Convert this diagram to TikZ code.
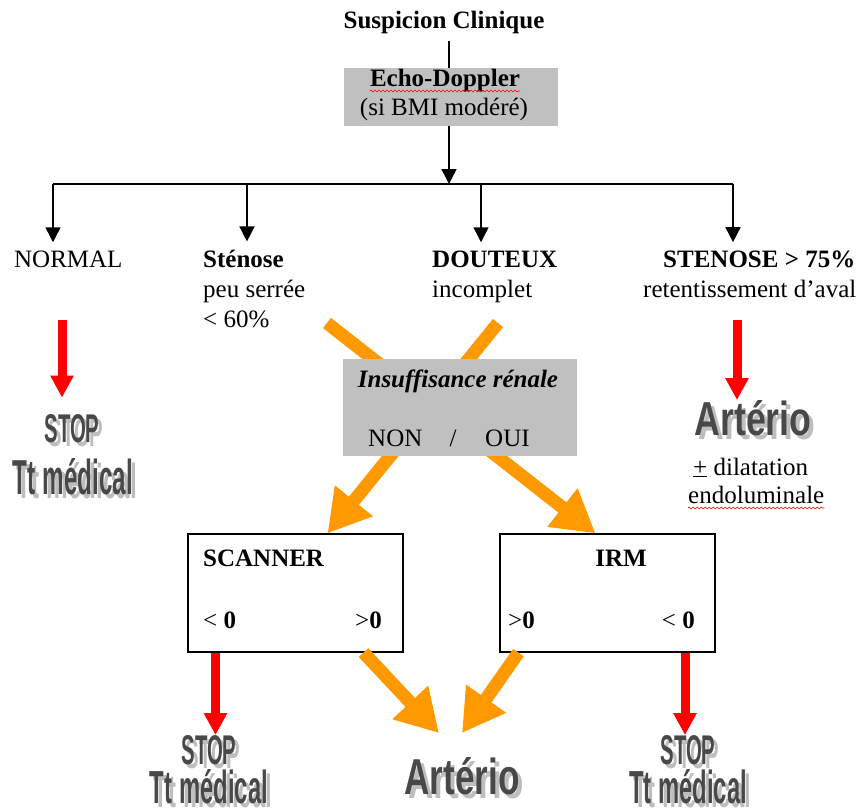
\documentclass[tikz,border=0pt]{standalone}
\usepackage{fontspec}
\setmainfont{Liberation Serif}
\newfontfamily\wordartfont{Liberation Sans}
\usepackage{graphicx}
\usetikzlibrary{arrows.meta,backgrounds,decorations.pathmorphing}

\definecolor{boxgray}{RGB}{192,192,192}
\definecolor{officeorange}{RGB}{255,153,0}
\definecolor{artgray}{RGB}{72,72,72}
\definecolor{artshade}{RGB}{190,190,190}

\tikzset{
  lbl/.style={inner sep=0pt},
  graybox/.style={fill=boxgray, draw=none},
  whitebox/.style={draw, line width=1.2pt, fill=white},
  link/.style={line width=1.5pt, -{Triangle[width=15pt,length=15pt]}},
  redarrow/.style={red, line width=9pt, -{Triangle[width=22pt,length=22pt]}},
  orangearrow/.style={officeorange, line width=13pt, -{Triangle[width=46pt,length=42pt]}},
  art/.style={inner sep=0pt, text=artgray},
  artshadow/.style={inner sep=0pt, text=artshade, xshift=4pt, yshift=-4pt},
  squiggle/.style={red, line width=0.6pt, decorate,
    decoration={snake, amplitude=1pt, segment length=4pt}},
}

\newcommand{\arttext}[3]{\resizebox{#1}{#2}{\wordartfont\bfseries #3}}
\newcommand{\wordart}[5]{%
  \node[artshadow] (#1sh) at (#2) {\arttext{#3}{#4}{#5}};
  \node[art] (#1) at (#2) {\arttext{#3}{#4}{#5}};
}

\begin{document}
\begin{tikzpicture}[x=1pt, y=-1pt, font=\fontsize{25}{30}\selectfont]
  \useasboundingbox (0,0) rectangle (865,809);

  % Echo-Doppler
  \node[lbl, anchor=base] (susp) at (444,28) {\textbf{Suspicion Clinique}};
  \node[graybox, minimum width=214pt, minimum height=58pt] (echo) at (450.5,97) {};
  \node[lbl, anchor=base] (echotitle) at (445,86) {\textbf{Echo-Doppler}};
  \node[lbl, anchor=base] (echonote) at (444,115) {(si BMI modéré)};
  \draw[squiggle] ([yshift=-5pt]echotitle.base west) -- ([yshift=-5pt]echotitle.base east);

  \coordinate (split) at (449,184);
  \draw[line width=1.5pt] ([yshift=-7pt]susp.south -| split) -- (echo.north -| split);
  \draw[link] (echo.south -| split) -- (split);

  % four results
  \node[lbl, anchor=base west] (normal) at (14,267) {NORMAL};
  \node[lbl, anchor=base west] (sten) at (203,267) {\textbf{Sténose}};
  \node[lbl, anchor=base west] (stenA) at (203,297) {peu serrée};
  \node[lbl, anchor=base west] (stenB) at (203,327) {< 60\%};
  \node[lbl, anchor=base west] (dout) at (432,267) {\textbf{DOUTEUX}};
  \node[lbl, anchor=base west] (doutA) at (432,297) {incomplet};
  \node[lbl, anchor=base west] (sev) at (663,267) {\textbf{STENOSE > 75\%}};
  \node[lbl, anchor=base west] (sevA) at (643,297) {retentissement d'aval};

  \coordinate (bnormal) at (53,184);
  \coordinate (bsten) at (247,184);
  \coordinate (bdout) at (481,184);
  \coordinate (bsev) at (733,184);
  \draw[line width=1.5pt] (bnormal) -- (bsev);
  \foreach \b/\t in {bnormal/normal, bsten/sten, bdout/dout, bsev/sev}
    \draw[link] (\b) -- ([yshift=8pt]\b |- \t.north);

  % insuffisance renale
  \node[graybox, minimum width=234pt, minimum height=97pt] (insuf) at (460,407.5) {};
  \node[lbl, anchor=base] (insuftitle) at (458,387) {\textbf{\textit{Insuffisance rénale}}};
  \node[lbl, anchor=base west] (non) at (368,446) {NON};
  \node[lbl, anchor=base] (slash) at (453,446) {/};
  \node[lbl, anchor=base west] (oui) at (485,446) {OUI};

  % imaging
  \node[whitebox, minimum width=215pt, minimum height=118pt] (scan) at (295.5,593) {};
  \node[whitebox, minimum width=215pt, minimum height=118pt] (irm) at (607.5,593) {};
  \node[lbl, anchor=base west] (scantitle) at (203,566) {\textbf{SCANNER}};
  \node[lbl, anchor=base west] (scanlow) at (203,628) {< \textbf{0}};
  \node[lbl, anchor=base east] (scanhigh) at (382,628) {>\textbf{0}};
  \node[lbl, anchor=base east] (irmtitle) at (647,566) {\textbf{IRM}};
  \node[lbl, anchor=base west] (irmhigh) at (508,628) {>\textbf{0}};
  \node[lbl, anchor=base east] (irmlow) at (695,628) {< \textbf{0}};

  \begin{scope}[on background layer]
    \coordinate (fromsten) at (327,323);
    \coordinate (fromdout) at (498,323);
    \draw[orangearrow] (fromsten) -- ([xshift=-12pt]irm.north);
    \draw[orangearrow] (fromdout) -- ([xshift=32pt]scan.north);
  \end{scope}

  % outcomes
  \wordart{stopA}{72,429}{55pt}{28pt}{STOP}
  \wordart{medA}{73,477}{120pt}{36pt}{Tt médical}
  \wordart{artA}{753,418}{117pt}{35pt}{Artério}
  \wordart{stopB}{209,750}{55pt}{29pt}{STOP}
  \wordart{medB}{209,787}{118pt}{34pt}{Tt médical}
  \wordart{artB}{462,776}{115pt}{37pt}{Artério}
  \wordart{stopC}{688,750}{55pt}{29pt}{STOP}
  \wordart{medC}{688,787}{118pt}{34pt}{Tt médical}

  \node[lbl, anchor=base west] (dil) at (693,475) {\underline{+} dilatation};
  \node[lbl, anchor=base west] (endo) at (688,503) {endoluminale};
  \draw[squiggle] ([yshift=-5pt]endo.base west) -- ([yshift=-5pt]endo.base east);

  \coordinate (fromnormal) at (62,320);
  \coordinate (fromsev) at (737,320);
  \draw[redarrow] (fromnormal) -- ([yshift=17pt]fromnormal |- stopA.north);
  \draw[redarrow] (fromsev) -- (fromsev |- artA.north);
  \draw[redarrow] ([xshift=-80pt]scan.south) -- ([xshift=-80pt]scan.south |- stopB.north);
  \draw[redarrow] ([xshift=77.5pt]irm.south) -- ([xshift=77.5pt]irm.south |- stopC.north);

  \draw[orangearrow] ([xshift=68pt]scan.south) -- ([xshift=-23pt,yshift=24pt]artB.north);
  \draw[orangearrow] ([xshift=-89pt]irm.south) -- ([yshift=24pt]artB.north);
\end{tikzpicture}
\end{document}
